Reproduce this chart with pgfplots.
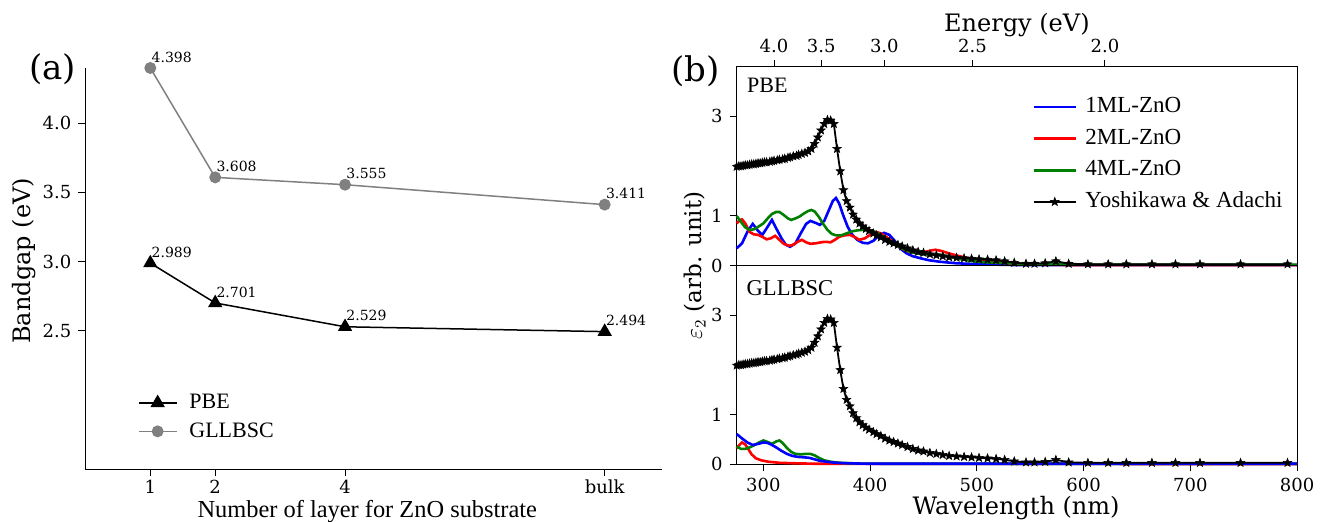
\documentclass[border=0pt]{standalone}
\usepackage{fontspec}
\setmainfont{DejaVu Serif}
\newfontfamily\tnr{Liberation Serif}
\usepackage{pgfplots}
\pgfplotsset{compat=1.18}

\definecolor{gll}{RGB}{128,128,128}
\definecolor{mblue}{RGB}{0,0,255}
\definecolor{mred}{RGB}{255,0,0}
\definecolor{mgreen}{RGB}{0,128,0}

% filled five-point star
\pgfdeclareplotmark{fstar}{%
  \pgfpathmoveto{\pgfpointpolar{90}{\pgfplotmarksize}}%
  \pgfpathlineto{\pgfpointpolar{126}{0.42\pgfplotmarksize}}%
  \pgfpathlineto{\pgfpointpolar{162}{\pgfplotmarksize}}%
  \pgfpathlineto{\pgfpointpolar{198}{0.42\pgfplotmarksize}}%
  \pgfpathlineto{\pgfpointpolar{234}{\pgfplotmarksize}}%
  \pgfpathlineto{\pgfpointpolar{270}{0.42\pgfplotmarksize}}%
  \pgfpathlineto{\pgfpointpolar{306}{\pgfplotmarksize}}%
  \pgfpathlineto{\pgfpointpolar{342}{0.42\pgfplotmarksize}}%
  \pgfpathlineto{\pgfpointpolar{18}{\pgfplotmarksize}}%
  \pgfpathlineto{\pgfpointpolar{54}{0.42\pgfplotmarksize}}%
  \pgfpathclose
  \pgfusepathqfillstroke}

% Yoshikawa & Adachi (experiment), same in both panels
\pgfplotstableread{
wl eps
275 1.99
277 2.00
279 2.00
281 2.01
283 2.02
285 2.02
287 2.03
289 2.04
291 2.04
293 2.05
295 2.06
297 2.06
299 2.07
301 2.08
303 2.08
306 2.09
308 2.10
310 2.11
313 2.12
315 2.13
318 2.14
320 2.15
323 2.17
325 2.18
328 2.20
331 2.21
333 2.23
336 2.25
339 2.27
342 2.30
345 2.35
348 2.45
351 2.58
354 2.72
357 2.85
360 2.93
363 2.92
366 2.85
369 2.35
372 1.90
375 1.52
378 1.30
381 1.17
384 1.03
387 0.93
390 0.85
393 0.79
396 0.74
399 0.70
403 0.65
406 0.61
410 0.57
414 0.52
418 0.48
422 0.45
426 0.42
430 0.39
435 0.35
440 0.31
445 0.28
450 0.26
456 0.23
462 0.21
468 0.19
474 0.17
481 0.16
488 0.15
495 0.14
502 0.13
510 0.12
518 0.11
526 0.09
535 0.06
546 0.04
554 0.04
564 0.05
574 0.09
586 0.04
604 0.03
623 0.03
640 0.03
664 0.03
686 0.03
709 0.03
747 0.03
791 0.03
}\expdata

\pgfplotsset{
  base/.style={
    scale only axis, anchor=south west, clip=false,
    tick align=outside, major tick length=3.5pt,
    tick style={black, line width=0.5pt},
    axis line style={line width=0.5pt},
    ticklabel style={font=\fontsize{9}{10}\selectfont},
    /pgf/number format/assume math mode=true,
  },
  spec/.style={
    base, width=280.2pt, xmin=275, xmax=800, ymin=0, ymax=4,
    ytick={0,1,3}, ytick pos=left,
  },
}

\begin{document}
\begin{tikzpicture}
\useasboundingbox (0,0) rectangle (664pt,261pt);

% ---------------- (a) bandgap ----------------
\begin{axis}[base,
  at={(42.7pt,26.35pt)}, width=288.2pt, height=200.8pt,
  xmin=0, xmax=8.88, ymin=1.5, ymax=4.40,
  axis x line*=bottom, axis y line*=left,
  axis line style={-, line width=0.5pt},
  xtick={1,2,4,8}, xticklabels={1,2,4,bulk},
  xticklabel style={inner sep=1.5pt},
  ytick={2.5,3.0,3.5,4.0},
  yticklabel style={/pgf/number format/.cd, fixed, fixed zerofill, precision=1},
  xlabel={\tnr Number of layer for ZnO substrate},
  xlabel style={font=\fontsize{12.2}{13}\selectfont, inner sep=0pt, at={(rel axis cs:0.489,-0.104)}, anchor=center},
  ylabel={Bandgap (eV)},
  ylabel style={font=\fontsize{12}{13}\selectfont, at={(rel axis cs:-0.107,0.519)}, anchor=center},
  legend style={draw=none, fill=none, at={(rel axis cs:0.080,0.208)}, anchor=north west,
    font=\tnr\fontsize{11}{12}\selectfont, row sep=1.5pt,
    /tikz/every odd column/.append style={column sep=4pt}},
  legend cell align=left,
  legend image code/.code={\draw[mark repeat=2,mark phase=2] plot coordinates {(0pt,0pt) (9.5pt,0pt) (19pt,0pt)};},
  nodes near coords, point meta=explicit symbolic,
  every node near coord/.style={anchor=south west, text=black, font=\fontsize{7}{8}\selectfont, inner sep=0pt, xshift=0.3pt, yshift=2.5pt},
]
\addplot[black, line width=0.75pt, mark=triangle*, mark size=3.4pt]
  coordinates {(1,2.989) [2.989] (2,2.701) [2.701] (4,2.529) [2.529] (8,2.494) [2.494]};
\addlegendentry{PBE}
\addplot[gll, line width=0.75pt, mark=*, mark size=2.6pt]
  coordinates {(1,4.398) [4.398] (2,3.608) [3.608] (4,3.555) [3.555] (8,3.411) [3.411]};
\addlegendentry{GLLBSC}
\node[font=\fontsize{17}{18}\selectfont] at (rel axis cs:-0.057,0.995) {(a)};
\end{axis}

% ---------------- (b) top: PBE ----------------
\begin{axis}[spec,
  at={(368.35pt,128.15pt)}, height=99.5pt,
  xtick={309.96,354.24,413.28,495.94,619.92}, xticklabels={4.0,3.5,3.0,2.5,2.0},
  xtick pos=right, xticklabel pos=right,
  xlabel={Energy (eV)},
  xlabel style={font=\fontsize{12}{13}\selectfont, at={(rel axis cs:0.5,1.21)}, anchor=center},
  legend style={draw=none, fill=none, at={(rel axis cs:0.516,0.882)}, anchor=north west,
    font=\tnr\fontsize{11.5}{12}\selectfont, row sep=3.3pt,
    nodes={inner sep=1pt, text height=8pt, text depth=2.5pt},
    /tikz/every odd column/.append style={column sep=3pt}},
  legend cell align=left,
  legend image code/.code={\draw[mark repeat=2,mark phase=2] plot coordinates {(0pt,0pt) (10.6pt,0pt) (21.3pt,0pt)};},
]
\addplot[mblue, line width=1.3pt] coordinates {
(275,0.35) (280,0.45) (285,0.68) (290,0.84) (295,0.70) (299,0.62) (303,0.75) (308,0.92)
(312,0.75) (317,0.55) (321,0.42) (325,0.38) (330,0.45) (335,0.65) (340,0.84) (344,0.90)
(349,0.86) (353,0.82) (357,0.90) (361,1.10) (365,1.30) (368,1.36) (371,1.25) (375,1.00)
(379,0.78) (383,0.63) (388,0.52) (393,0.46) (398,0.45) (403,0.50) (408,0.60) (413,0.66)
(418,0.62) (423,0.50) (428,0.35) (434,0.25) (440,0.19) (447,0.15) (455,0.11) (465,0.08)
(480,0.05) (500,0.03) (530,0.015) (570,0.01) (650,0.01) (800,0.01)};
\addlegendentry{1ML-ZnO}
\addplot[mred, line width=1.3pt] coordinates {
(275,0.85) (278,0.92) (280,0.93) (283,0.85) (287,0.68) (291,0.63) (295,0.62) (299,0.58)
(303,0.53) (307,0.55) (311,0.60) (315,0.52) (319,0.44) (324,0.40) (328,0.42) (332,0.48)
(336,0.52) (340,0.47) (344,0.44) (349,0.45) (354,0.47) (358,0.48) (363,0.47) (367,0.52)
(371,0.58) (376,0.61) (381,0.62) (386,0.57) (390,0.52) (395,0.55) (400,0.62) (405,0.68)
(410,0.65) (415,0.58) (420,0.50) (426,0.40) (432,0.32) (438,0.27) (444,0.25) (450,0.27)
(456,0.30) (461,0.32) (466,0.30) (472,0.26) (480,0.21) (490,0.16) (500,0.12) (515,0.08)
(535,0.04) (560,0.02) (600,0.01) (800,0.01)};
\addlegendentry{2ML-ZnO}
\addplot[mgreen, line width=1.3pt] coordinates {
(275,1.00) (279,0.88) (283,0.77) (287,0.72) (291,0.73) (295,0.78) (300,0.85) (304,0.95)
(308,1.04) (312,1.08) (315,1.08) (319,1.02) (323,0.95) (326,0.92) (330,0.95) (334,0.99)
(338,1.05) (342,1.10) (345,1.12) (348,1.09) (352,0.98) (356,0.84) (360,0.72) (364,0.64)
(368,0.61) (373,0.61) (378,0.65) (383,0.69) (388,0.71) (393,0.72) (398,0.71) (403,0.69)
(408,0.64) (413,0.57) (418,0.49) (424,0.41) (430,0.35) (436,0.29) (443,0.25) (450,0.23)
(458,0.22) (465,0.22) (472,0.19) (480,0.15) (490,0.11) (500,0.08) (515,0.06) (530,0.05)
(550,0.03) (600,0.02) (700,0.02) (800,0.02)};
\addlegendentry{4ML-ZnO}
\addplot[black, line width=0.9pt, mark=fstar, mark size=2.2pt, mark options={solid, fill=black, line width=0.3pt}]
  table[x=wl, y=eps] {\expdata};
\addlegendentry{Yoshikawa \& Adachi}
\node[anchor=west, font=\tnr\fontsize{11}{12}\selectfont, inner sep=0pt] at (rel axis cs:0.018,0.908) {PBE};
\node[font=\fontsize{17}{18}\selectfont] at (rel axis cs:-0.073,0.975) {(b)};
\end{axis}

% ---------------- (b) bottom: GLLBSC ----------------
\begin{axis}[spec,
  at={(368.35pt,28.85pt)}, height=99.3pt,
  xtick={300,400,500,600,700,800}, xtick pos=left,
  xlabel={Wavelength (nm)},
  xlabel style={font=\fontsize{12}{13}\selectfont, at={(rel axis cs:0.4985,-0.22)}, anchor=center},
  ylabel={$\varepsilon_2$ (arb. unit)},
  ylabel style={font=\fontsize{11.5}{12}\selectfont, at={(rel axis cs:-0.0744,1.0)}, anchor=center},
]
\addplot[mred, line width=1.3pt] coordinates {
(275,0.32) (278,0.40) (280,0.44) (283,0.40) (286,0.30) (289,0.20) (293,0.12) (298,0.08)
(305,0.05) (315,0.03) (330,0.02) (350,0.01) (800,0.005)};
\addplot[mgreen, line width=1.3pt] coordinates {
(275,0.36) (279,0.31) (283,0.31) (287,0.34) (291,0.38) (296,0.44) (300,0.48) (304,0.45)
(308,0.41) (312,0.46) (315,0.48) (318,0.43) (322,0.33) (326,0.25) (330,0.21) (335,0.20)
(340,0.21) (344,0.21) (348,0.18) (352,0.13) (357,0.08) (363,0.05) (372,0.03) (390,0.015)
(420,0.01) (800,0.01)};
\addplot[mblue, line width=1.3pt] coordinates {
(275,0.61) (280,0.52) (285,0.44) (290,0.39) (295,0.41) (300,0.44) (304,0.43) (308,0.39)
(312,0.34) (317,0.27) (322,0.21) (327,0.17) (332,0.15) (338,0.14) (343,0.13) (348,0.10)
(353,0.07) (360,0.05) (368,0.03) (380,0.02) (400,0.01) (800,0.01)};
\addplot[black, line width=0.9pt, mark=fstar, mark size=2.2pt, mark options={solid, fill=black, line width=0.3pt}]
  table[x=wl, y=eps] {\expdata};
\node[anchor=west, font=\tnr\fontsize{11.3}{12}\selectfont, inner sep=0pt] at (rel axis cs:0.017,0.887) {GLLBSC};
\end{axis}
\end{tikzpicture}
\end{document}
